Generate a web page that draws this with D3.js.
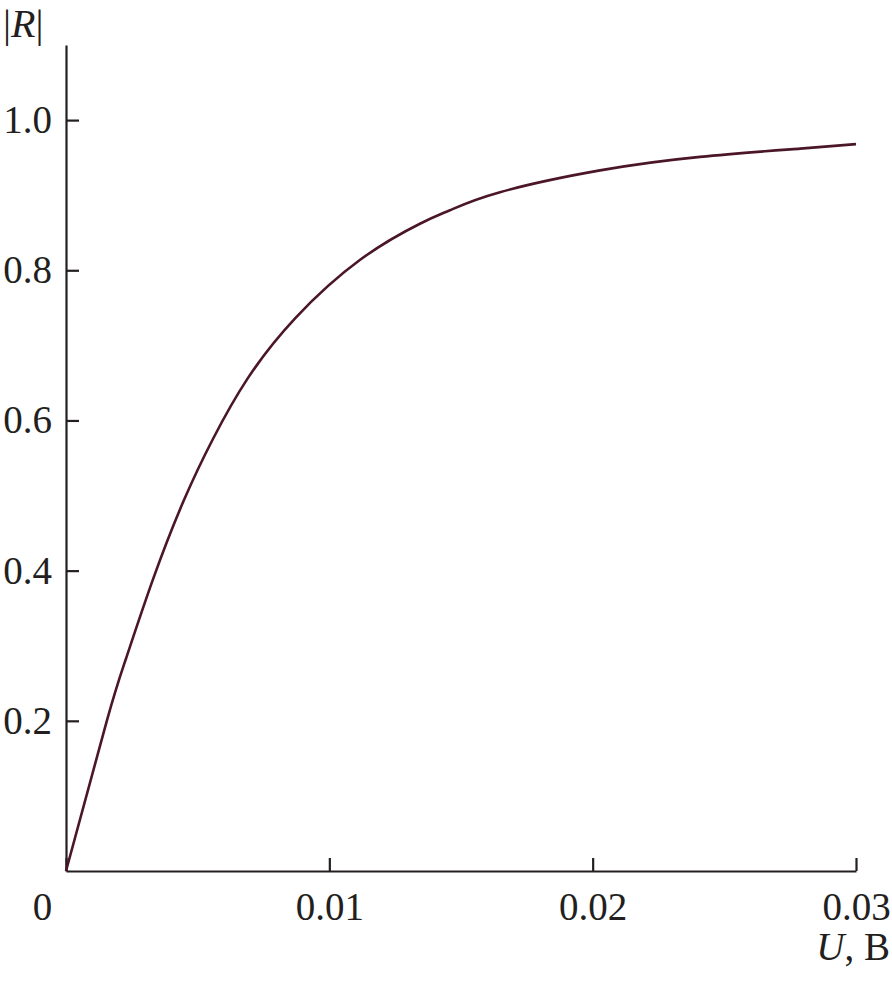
<!DOCTYPE html>
<html>
<head>
<meta charset="utf-8">
<style>
  body { margin: 0; background: #fff; }
  svg text { font-family: "Liberation Serif", "Times New Roman", serif; fill: #231f20; }
</style>
</head>
<body>
<div id="chart"></div>
<script src="https://d3js.org/d3.v7.min.js"></script>
<script>
// values
var voltage = [0, 0.00155, 0.00228, 0.00332, 0.00448, 0.00559, 0.0069, 0.0087, 0.01117,
               0.01344, 0.01458, 0.01648, 0.02028, 0.02408, 0.02788, 0.030];
var reflect = [0, 0.200, 0.283, 0.390, 0.494, 0.576, 0.656, 0.736, 0.814,
               0.862, 0.880, 0.904, 0.933, 0.951, 0.962, 0.968];
var xTicks = [0, 0.01, 0.02, 0.03];
var yTicks = [0.2, 0.4, 0.6, 0.8, 1.0];

var W = 892, H = 981;
var axisColor = "#231f20";

var svg = d3.select("#chart").append("svg")
    .attr("width", W)
    .attr("height", H);

var x = d3.scaleLinear().domain([0, 0.03]).range([66, 856]);
var y = d3.scaleLinear().domain([0, 1.1]).range([871, 45]);

// x axis, ticks pointing up
var gx = svg.append("g")
    .attr("transform", "translate(0," + y(0) + ")")
    .call(d3.axisBottom(x)
      .tickValues(xTicks)
      .tickSizeInner(-13)
      .tickSizeOuter(0)
      .tickPadding(21)
      .tickFormat(function(d) { return d === 0 ? "0" : d3.format(".2f")(d); }));

// y axis, ticks pointing right
var gy = svg.append("g")
    .attr("transform", "translate(" + x(0) + ",0)")
    .call(d3.axisLeft(y)
      .tickValues(yTicks)
      .tickSizeInner(-13)
      .tickSizeOuter(0)
      .tickPadding(14)
      .tickFormat(d3.format(".1f")));

[gx, gy].forEach(function(g) {
  g.select(".domain").attr("stroke", axisColor).attr("stroke-width", 2.2);
  g.selectAll(".tick line").attr("stroke", axisColor).attr("stroke-width", 2.2);
  g.selectAll(".tick text")
    .attr("font-size", "39px")
    .attr("font-family", "Liberation Serif, serif")
    .attr("fill", axisColor);
});

// the origin label sits left of the corner
gx.selectAll(".tick").filter(function(d) { return d === 0; })
  .select("text").attr("x", -24);

// curve
var pts = voltage.map(function(u, i) { return [u, reflect[i]]; });
svg.append("path")
  .datum(pts)
  .attr("fill", "none")
  .attr("stroke", "#4a1628")
  .attr("stroke-width", 2.6)
  .attr("d", d3.line()
    .x(function(d) { return x(d[0]); })
    .y(function(d) { return y(d[1]); })
    .curve(d3.curveNatural));

// axis titles
var yt = svg.append("text")
  .attr("x", 3)
  .attr("y", 37)
  .attr("font-size", "40px");
yt.append("tspan").text("|");
yt.append("tspan").attr("font-style", "italic").text("R");
yt.append("tspan").text("|");

var xt = svg.append("text")
  .attr("x", 890)
  .attr("y", 960)
  .attr("text-anchor", "end")
  .attr("font-size", "39px");
xt.append("tspan").attr("font-style", "italic").text("U");
xt.append("tspan").text(", В");
</script>
</body>
</html>
